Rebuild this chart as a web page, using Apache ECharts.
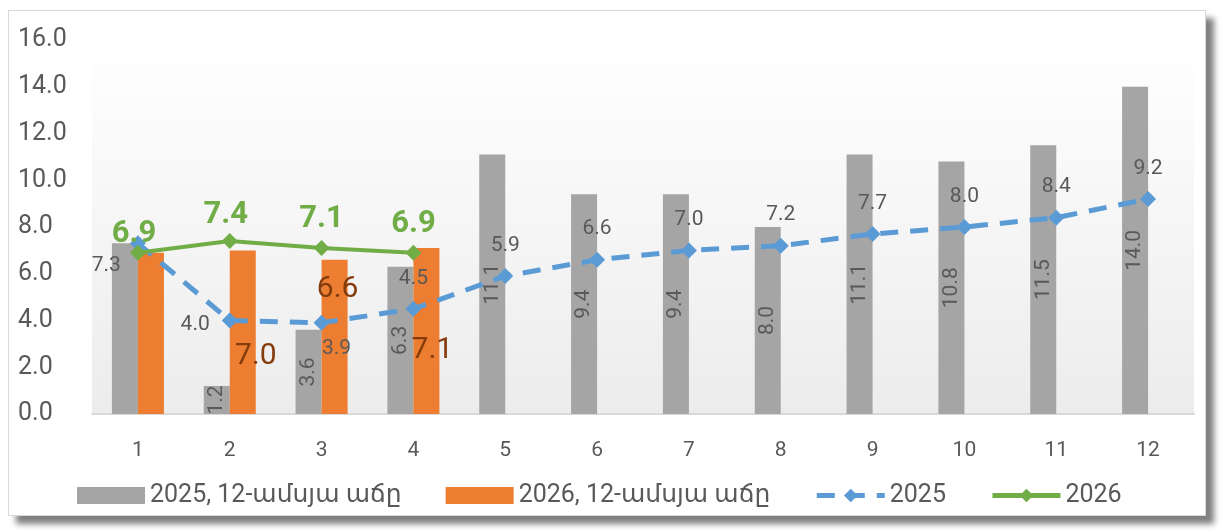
<!DOCTYPE html>
<html>
<head>
<meta charset="utf-8">
<script src="https://cdn.jsdelivr.net/npm/echarts@6/dist/echarts.min.js"></script>
<style>
  html, body { margin: 0; padding: 0; background: #fff; }
  #frame {
    position: absolute; left: 8px; top: 10px; width: 1196px; height: 504px;
    background: #fff; border: 1px solid #d9d9d9;
    box-shadow: 8px 8px 6px rgba(0, 0, 0, 0.5);
  }
  #app { position: absolute; left: 0; top: 0; width: 1223px; height: 532px; }
</style>
</head>
<body>
<div id="frame"></div>
<div id="app"></div>
<script>
const months = ['1', '2', '3', '4', '5', '6', '7', '8', '9', '10', '11', '12'];
const bars2025 = [7.3, 1.2, 3.6, 6.3, 11.1, 9.4, 9.4, 8.0, 11.1, 10.8, 11.5, 14.0];
const bars2026 = [6.9, 7.0, 6.6, 7.1];
const line2025 = [7.3, 4.0, 3.9, 4.5, 5.9, 6.6, 7.0, 7.2, 7.7, 8.0, 8.4, 9.2];
const line2026 = [6.9, 7.4, 7.1, 6.9];
const names = ['2025, 12-ամսյա աճը', '2026, 12-ամսյա աճը', '2025', '2026'];

const FONT = 'Roboto, "DejaVu Sans", sans-serif';
const gray = '#a5a5a5', orange = '#ed7d31', blue = '#5b9bd5', green = '#70ad47';
const fmt = p => Number(p.value).toFixed(1);

// per-point label tweaks (styling only)
const grayLabels = { 0: { show: false } };
const orangeLabels = {
  0: { show: false },
  1: { position: 'inside', offset: [13, 24] },
  2: { position: 'insideTop', distance: 5, offset: [3, 10] },
  3: { position: 'inside', offset: [6, 19] }
};
const blueLabels = {
  0: { position: 'left', offset: [3, 22] },
  1: { position: 'left', offset: [0, 4] },
  2: { position: 'bottom', offset: [15, -5] }
};
const greenLabels = { 0: { offset: [-4, 10] }, 1: { offset: [-4, 3] } };

const withLabels = (vals, tweaks) =>
  vals.map((v, i) => tweaks[i] ? { value: v, label: tweaks[i] } : v);

const chart = echarts.init(document.getElementById('app'));
chart.setOption({
  backgroundColor: 'transparent',
  animation: false,
  textStyle: { fontFamily: FONT },
  grid: {
    left: 92, right: 29, top: 40, bottom: 118,
    show: true, borderWidth: 0,
    backgroundColor: new echarts.graphic.LinearGradient(0, 0, 0, 1, [
      { offset: 0, color: '#ffffff' },
      { offset: 1, color: '#ececec' }
    ])
  },
  legend: {
    left: 72, top: 478,
    itemWidth: 68, itemHeight: 17, itemGap: 44,
    textStyle: { fontFamily: FONT, fontSize: 25, color: '#595959' },
    data: [
      { name: names[0], icon: 'rect' },
      { name: names[1], icon: 'rect' },
      { name: names[2], lineStyle: { width: 5 } },
      { name: names[3], lineStyle: { width: 5 } }
    ]
  },
  xAxis: {
    type: 'category',
    data: months,
    axisLine: { lineStyle: { color: '#d9d9d9', width: 2 } },
    axisTick: { show: false },
    axisLabel: { color: '#595959', fontSize: 21, margin: 26 }
  },
  yAxis: {
    type: 'value',
    min: 0, max: 16, interval: 2,
    splitLine: { show: false },
    axisLine: { show: false },
    axisTick: { show: false },
    axisLabel: {
      color: '#595959', fontSize: 25, align: 'left', margin: 74,
      formatter: v => v.toFixed(1)
    }
  },
  series: [
    {
      name: names[0], type: 'bar', barWidth: 26, barGap: '0%',
      itemStyle: { color: gray },
      label: {
        show: true, position: 'inside', rotate: 90,
        color: '#595959', fontSize: 21, formatter: fmt
      },
      data: withLabels(bars2025, grayLabels)
    },
    {
      name: names[1], type: 'bar', barWidth: 26, barGap: '0%',
      itemStyle: { color: orange },
      label: { show: true, color: '#843c0c', fontSize: 30, formatter: fmt },
      data: withLabels(bars2026, orangeLabels)
    },
    {
      name: names[2], type: 'line', z: 3,
      symbol: 'diamond', symbolSize: 16,
      itemStyle: { color: blue },
      lineStyle: { color: blue, width: 5, type: [18, 12] },
      label: {
        show: true, position: 'top', distance: 12,
        color: '#595959', fontSize: 21, formatter: fmt
      },
      data: withLabels(line2025, blueLabels)
    },
    {
      name: names[3], type: 'line', z: 4,
      symbol: 'diamond', symbolSize: 16,
      itemStyle: { color: green },
      lineStyle: { color: green, width: 4 },
      label: {
        show: true, position: 'top', distance: 5,
        color: green, fontSize: 31, fontWeight: 'bold', formatter: fmt
      },
      data: withLabels(line2026, greenLabels)
    }
  ]
});
</script>
</body>
</html>
